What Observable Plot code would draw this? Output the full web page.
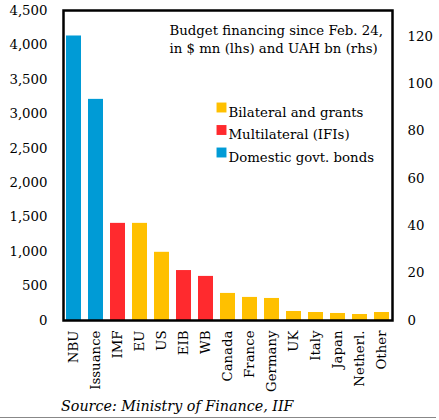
<!DOCTYPE html>
<html>
<head>
<meta charset="utf-8">
<script src="https://cdn.jsdelivr.net/npm/d3@7"></script>
<script src="https://cdn.jsdelivr.net/npm/@observablehq/plot@0.6"></script>
<style>
  html, body { margin: 0; padding: 0; background: #fff; }
  #chart { position: relative; width: 439px; height: 420px; overflow: hidden; }
  #chart svg { display: block; }
  .caption { font-family: "DejaVu Serif", serif; font-style: italic; font-size: 14.3px; color: #000; position: absolute; left: 61px; top: 398px; }
  .rule { position: absolute; left: 0; top: 417px; width: 436px; height: 1px; background: #888; }
</style>
</head>
<body>
<div id="chart"></div>
<script>
const categories = ["NBU","Issuance","IMF","EU","US","EIB","WB","Canada","France","Germany","UK","Italy","Japan","Netherl.","Other"];
const values = [4130,3210,1410,1410,990,725,640,393,335,320,131,116,102,87,116];
const groups = ["Domestic govt. bonds","Domestic govt. bonds","Multilateral (IFIs)","Bilateral and grants","Bilateral and grants","Multilateral (IFIs)","Multilateral (IFIs)","Bilateral and grants","Bilateral and grants","Bilateral and grants","Bilateral and grants","Bilateral and grants","Bilateral and grants","Bilateral and grants","Bilateral and grants"];
const legendLabels = ["Bilateral and grants","Multilateral (IFIs)","Domestic govt. bonds"];
const legendColors = ["#FFC000","#FF2A2E","#009BD6"];
const leftTicks = [0,500,1000,1500,2000,2500,3000,3500,4000,4500];
const rightTicks = [0,20,40,60,80,100,120];
const rightMax = 131; // UAH bn at top of left axis (4,500)
const annotation = ["Budget financing since Feb. 24,", "in $ mn (lhs) and UAH bn (rhs)"];

const k = 4500 / rightMax;
const data = categories.map((c, i) => ({cat: c, value: values[i], group: groups[i]}));
const font = "DejaVu Serif, serif";
const fs = 13.3;

const legendRows = legendLabels.map((l, i) => ({label: l, color: legendColors[i], i}));

const plot = Plot.plot({
  width: 439,
  height: 395,
  marginLeft: 63,
  marginRight: 47,
  marginTop: 10,
  marginBottom: 75,
  style: {fontFamily: font, fontSize: fs + "px", color: "#000", background: "#fff"},
  x: {domain: categories, paddingInner: 0.32, paddingOuter: 0.1, label: null},
  y: {domain: [0, 4500], label: null},
  color: {domain: legendLabels, range: legendColors},
  marks: [
    Plot.barY(data, {x: "cat", y: "value", fill: "group"}),
    Plot.axisX({tickSize: 0, tickRotate: -90, tickPadding: 10, fontSize: fs, label: null}),
    Plot.axisY(leftTicks, {anchor: "left", tickSize: 0, tickPadding: 16, tickFormat: d3.format(","), fontSize: fs, label: null}),
    Plot.axisY(rightTicks.map(d => d * k), {anchor: "right", tickSize: 0, tickPadding: 15, tickFormat: d => Math.round(d / k), fontSize: fs, label: null}),
    Plot.frame({stroke: "#000", strokeWidth: 2.5}),
    ...annotation.map((t, i) => Plot.text([t], {frameAnchor: "top-left", dx: 106, dy: 15 + i * 18, text: d => d, textAnchor: "start", fontSize: fs})),
    ...legendRows.map(r => Plot.dot([r], {frameAnchor: "top-left", dx: 158, dy: 97 + r.i * 22.5, symbol: "square", r: 5.6, fill: r.color, stroke: null})),
    ...legendRows.map(r => Plot.text([r], {frameAnchor: "top-left", dx: 165, dy: 97 + r.i * 22.5, text: "label", textAnchor: "start", fontSize: fs}))
  ]
});

const el = document.getElementById("chart");
el.appendChild(plot);
const cap = document.createElement("div");
cap.className = "caption";
cap.textContent = "Source: Ministry of Finance, IIF";
el.appendChild(cap);
const rule = document.createElement("div");
rule.className = "rule";
el.appendChild(rule);
</script>
</body>
</html>
